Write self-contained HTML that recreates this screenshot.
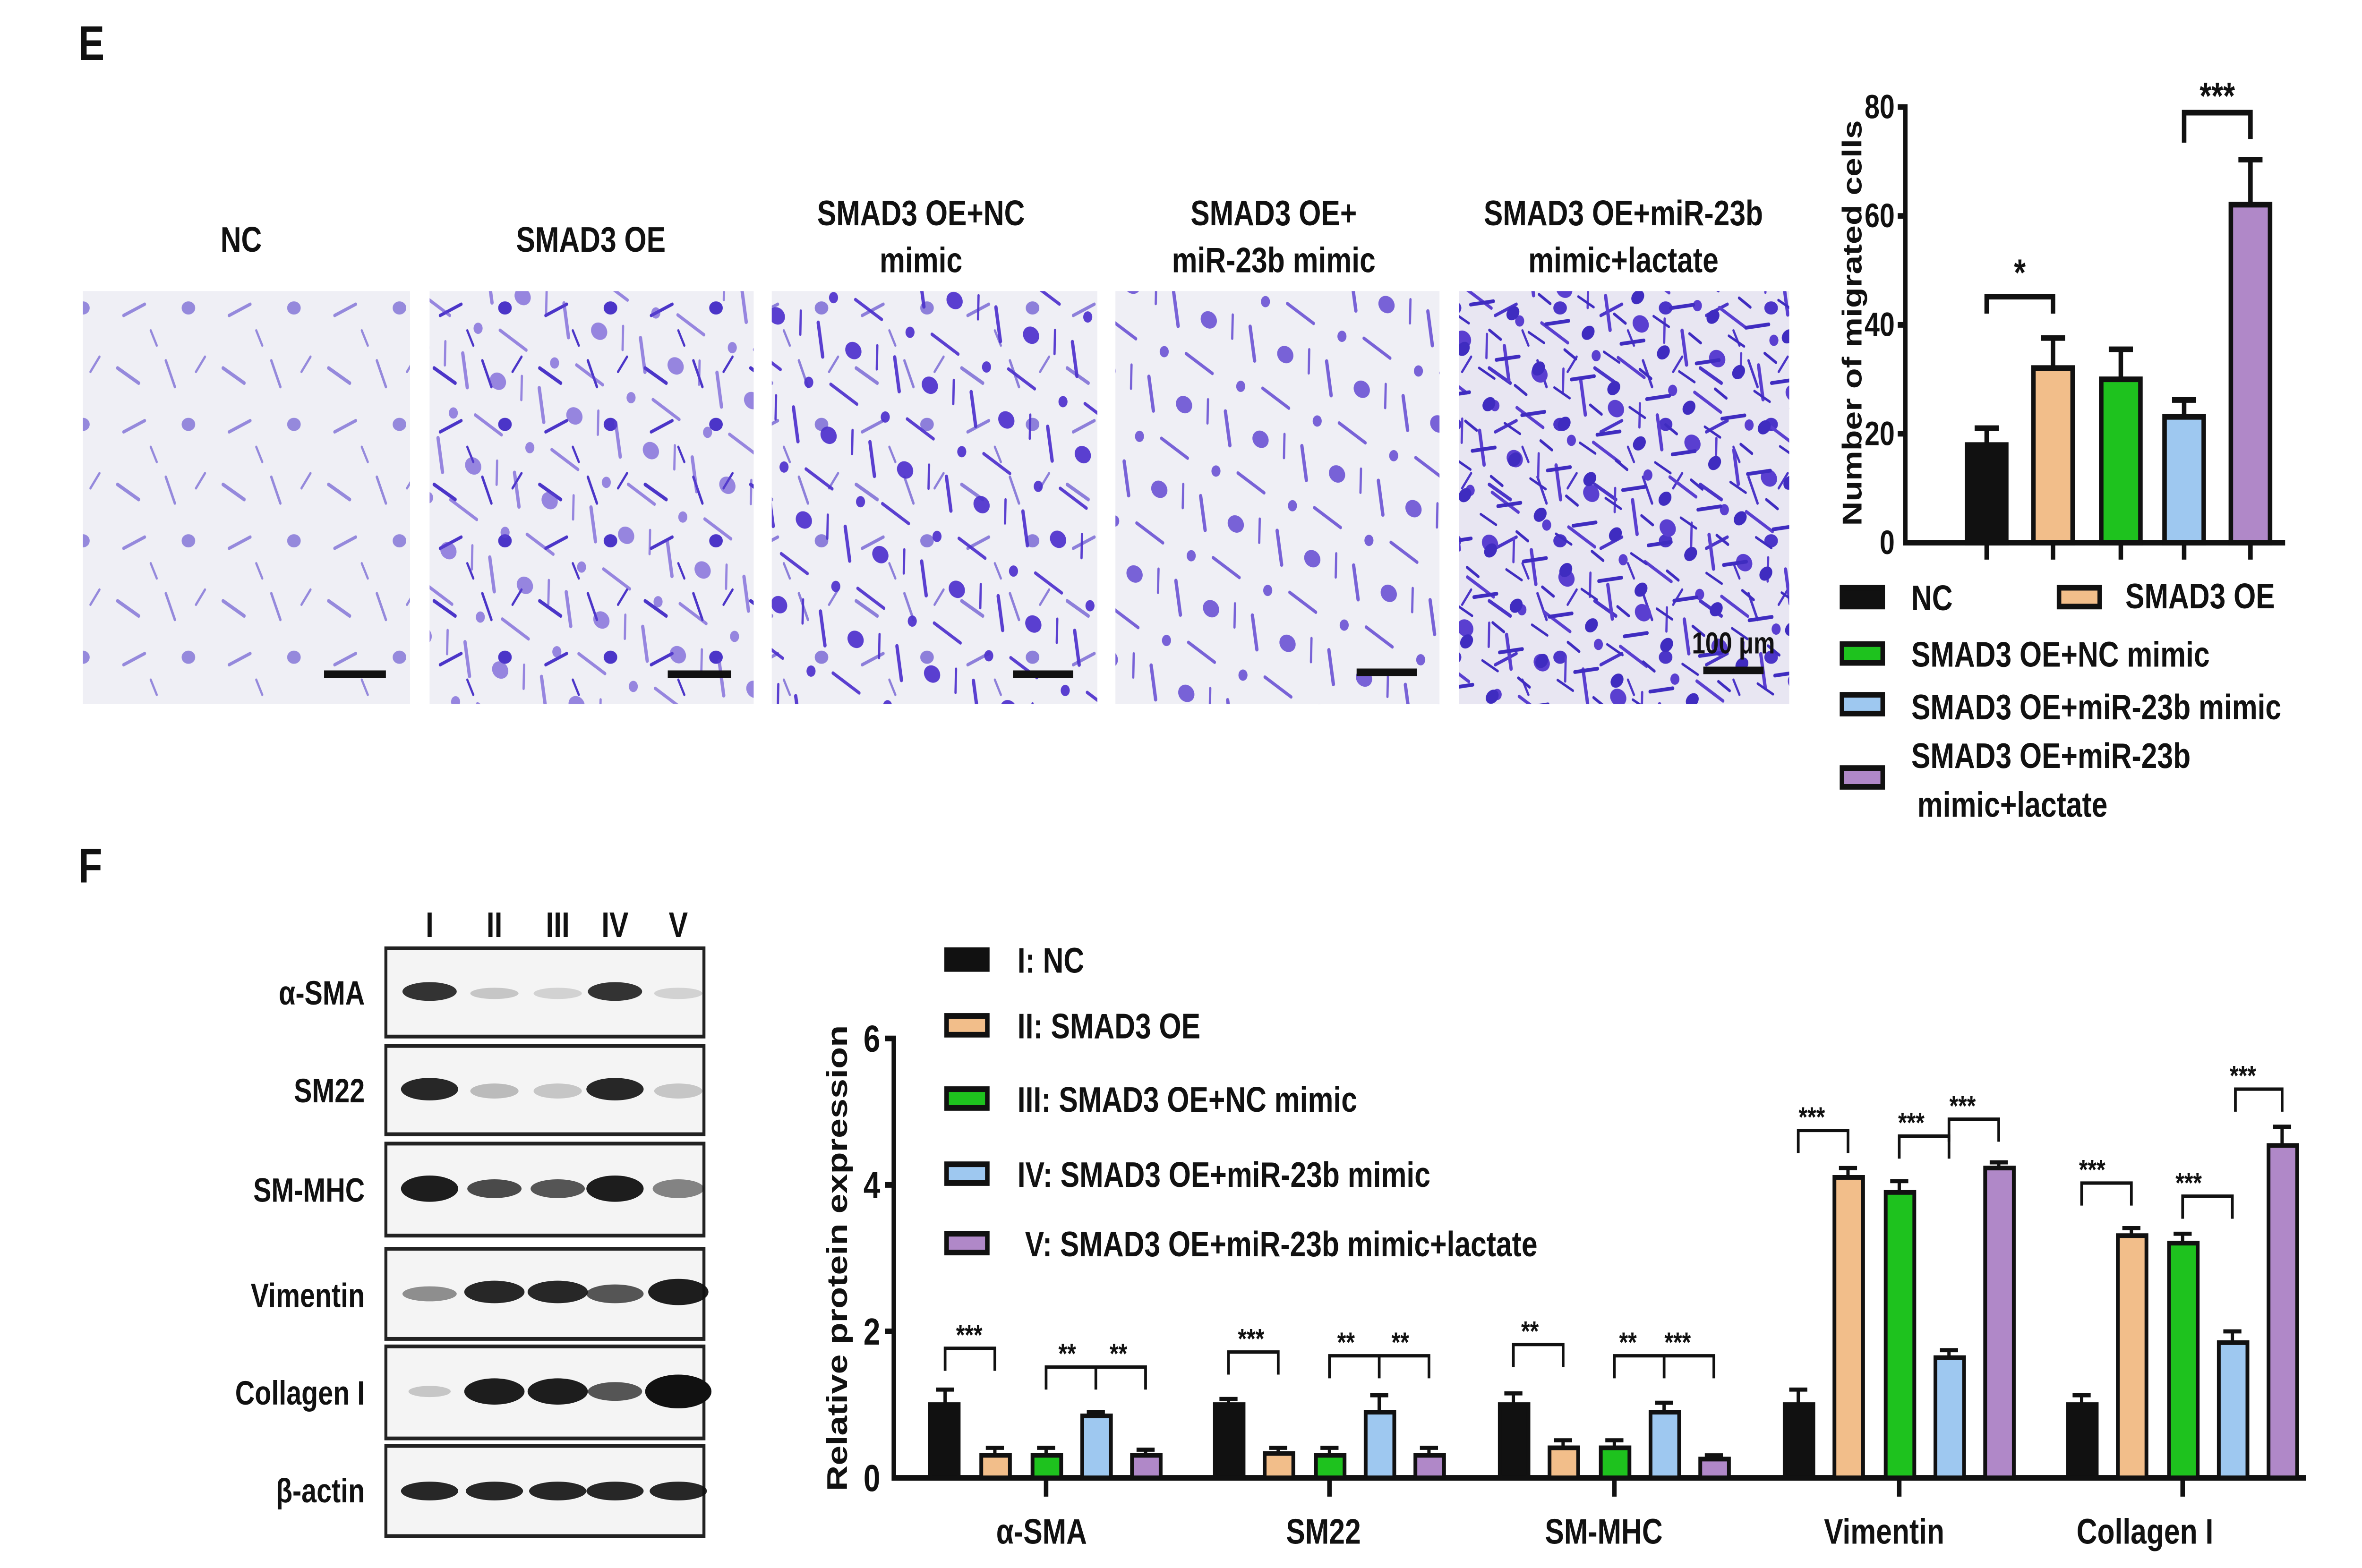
<!DOCTYPE html>
<html><head><meta charset="utf-8"><style>html,body{margin:0;padding:0;background:#fff;width:100%;height:100%;overflow:hidden}svg{display:block;width:100vw;height:100vh}text{font-family:"Liberation Sans",Arial,sans-serif;font-weight:bold;fill:#111}</style></head>
<body>
<svg viewBox="0 0 1567 835" preserveAspectRatio="none" xmlns="http://www.w3.org/2000/svg">
<defs>
<pattern id="c1" width="70" height="62" patternUnits="userSpaceOnUse">
<g stroke="#4b35c8" stroke-linecap="round" fill="#4b35c8">
<path d="M8 10 L22 18" stroke-width="2"/><path d="M40 6 L46 20" stroke-width="1.6"/><ellipse cx="55" cy="40" rx="4" ry="3"/><path d="M12 44 L26 38" stroke-width="1.8"/><path d="M30 52 L34 60" stroke-width="1.4"/><path d="M60 12 L66 4" stroke-width="1.4"/>
</g></pattern>
<pattern id="c2" width="54" height="48" patternUnits="userSpaceOnUse" patternTransform="translate(17,23) rotate(20)">
<g stroke="#5a3fd0" stroke-linecap="round" fill="#5a3fd0">
<path d="M5 8 L14 24" stroke-width="2.2"/><ellipse cx="32" cy="14" rx="5" ry="4"/><path d="M24 36 L44 40" stroke-width="1.8"/><path d="M46 6 L50 18" stroke-width="1.5"/><circle cx="10" cy="40" r="2.5"/>
</g></pattern>
<pattern id="c3" width="38" height="34" patternUnits="userSpaceOnUse" patternTransform="translate(5,9) rotate(-30)">
<g stroke="#3f2cc0" stroke-linecap="round" fill="#3f2cc0">
<path d="M4 6 L18 12" stroke-width="2"/><ellipse cx="26" cy="24" rx="4" ry="3"/><path d="M8 24 L12 32" stroke-width="1.6"/><path d="M30 4 L36 14" stroke-width="1.4"/>
</g></pattern>
</defs>
<rect width="1567" height="835" fill="#fff"/>
<text x="52" y="32" font-size="26">E</text>
<text x="52" y="470" font-size="26">F</text>

<g font-size="19" text-anchor="middle">
<text x="160" y="134">NC</text>
<text x="392" y="134">SMAD3 OE</text>
<text x="611" y="120">SMAD3 OE+NC</text><text x="611" y="145">mimic</text>
<text x="845" y="120">SMAD3 OE+</text><text x="845" y="145">miR-23b mimic</text>
<text x="1077" y="120">SMAD3 OE+miR-23b</text><text x="1077" y="145">mimic+lactate</text>
</g>
<g>
<rect x="55" y="155" width="217" height="220" fill="#efeff5"/>
<rect x="55" y="155" width="217" height="220" fill="url(#c1)" opacity="0.55"/>
<rect x="285" y="155" width="215" height="220" fill="#efeff5"/>
<rect x="285" y="155" width="215" height="220" fill="url(#c1)"/>
<rect x="285" y="155" width="215" height="220" fill="url(#c2)" opacity="0.6"/>
<rect x="512" y="155" width="216" height="220" fill="#efeff5"/>
<rect x="512" y="155" width="216" height="220" fill="url(#c2)"/>
<rect x="512" y="155" width="216" height="220" fill="url(#c1)" opacity="0.6"/>
<rect x="740" y="155" width="215" height="220" fill="#efeff5"/>
<rect x="740" y="155" width="215" height="220" fill="url(#c2)" opacity="0.8"/>
<rect x="968" y="155" width="219" height="220" fill="#e8e6f2"/>
<rect x="968" y="155" width="219" height="220" fill="url(#c1)"/>
<rect x="968" y="155" width="219" height="220" fill="url(#c2)"/>
<rect x="968" y="155" width="219" height="220" fill="url(#c3)"/>
</g>
<g stroke="#111" stroke-width="4">
<line x1="215" y1="359" x2="256" y2="359"/><line x1="443" y1="359" x2="485" y2="359"/><line x1="672" y1="359" x2="712" y2="359"/><line x1="900" y1="358" x2="940" y2="358"/><line x1="1130" y1="357" x2="1170" y2="357"/>
</g>
<text x="1150" y="348" font-size="16" text-anchor="middle" font-weight="normal">100 μm</text>

<g font-size="18" text-anchor="end">
<text x="1257" y="63">80</text><text x="1257" y="121">60</text><text x="1257" y="179">40</text><text x="1257" y="237">20</text><text x="1257" y="295">0</text>
</g>
<text transform="translate(1235,172) rotate(-90)" font-size="18" text-anchor="middle">Number of migrated cells</text>
<g stroke="#111" stroke-width="3" fill="none">
<path d="M1259 57 H1264 V289 H1516"/><path d="M1259 115 H1264 M1259 173 H1264 M1259 231 H1264"/>
<path d="M1318 289 V298 M1362 289 V298 M1407 289 V298 M1449 289 V298 M1493 289 V298"/>
<path d="M1318 167 V158 H1362 V167"/><path d="M1449 76 V60 H1493 V74"/>
<path d="M1318 237 V228 M1310 228 H1326 M1362 196 V180 M1354 180 H1370 M1407 202 V186 M1399 186 H1415 M1449 222 V213 M1441 213 H1457 M1493 109 V85 M1485 85 H1501"/>
</g>
<g stroke="#111" stroke-width="3">
<rect x="1305" y="237" width="26" height="52" fill="#111"/>
<rect x="1349" y="196" width="26" height="93" fill="#f2be8a"/>
<rect x="1394" y="202" width="26" height="87" fill="#1ec21e"/>
<rect x="1436" y="222" width="26" height="67" fill="#9ec8f0"/>
<rect x="1480" y="109" width="26" height="180" fill="#b088c8"/>
</g>
<text x="1340" y="152" font-size="20" text-anchor="middle">*</text>
<text x="1471" y="58" font-size="20" text-anchor="middle">***</text>
<g stroke="#111" stroke-width="3">
<rect x="1222" y="313" width="27" height="10" fill="#111"/>
<rect x="1366" y="313" width="27" height="10" fill="#f2be8a"/>
<rect x="1222" y="343" width="27" height="10" fill="#1ec21e"/>
<rect x="1222" y="370" width="27" height="10" fill="#9ec8f0"/>
<rect x="1222" y="409" width="27" height="10" fill="#b088c8"/>
</g>
<g font-size="19">
<text x="1268" y="325">NC</text><text x="1410" y="324">SMAD3 OE</text>
<text x="1268" y="355">SMAD3 OE+NC mimic</text>
<text x="1268" y="383">SMAD3 OE+miR-23b mimic</text>
<text x="1268" y="409">SMAD3 OE+miR-23b</text>
<text x="1272" y="435">mimic+lactate</text>
</g>

<g font-size="19" text-anchor="middle">
<text x="285" y="499">I</text><text x="328" y="499">II</text><text x="370" y="499">III</text><text x="408" y="499">IV</text><text x="450" y="499">V</text>
</g>
<g font-size="18" text-anchor="end">
<text x="242" y="535">α-SMA</text><text x="242" y="587">SM22</text><text x="242" y="640">SM-MHC</text><text x="242" y="696">Vimentin</text><text x="242" y="748">Collagen I</text><text x="242" y="800">β-actin</text>
</g>
<g stroke="#222" stroke-width="2" fill="#f4f4f4">
<rect x="256" y="505" width="211" height="47"/><rect x="256" y="557" width="211" height="47"/><rect x="256" y="609" width="211" height="49"/><rect x="256" y="665" width="211" height="48"/><rect x="256" y="717" width="211" height="49"/><rect x="256" y="770" width="211" height="48"/>
</g>
<g fill="#111">
<ellipse cx="285" cy="528" rx="18" ry="5" opacity="0.85"/><ellipse cx="328" cy="529" rx="16" ry="3" opacity="0.2"/><ellipse cx="370" cy="529" rx="16" ry="3" opacity="0.15"/><ellipse cx="408" cy="528" rx="18" ry="5" opacity="0.85"/><ellipse cx="450" cy="529" rx="16" ry="3" opacity="0.15"/>
<ellipse cx="285" cy="580" rx="19" ry="6" opacity="0.9"/><ellipse cx="328" cy="581" rx="16" ry="4" opacity="0.25"/><ellipse cx="370" cy="581" rx="16" ry="4" opacity="0.2"/><ellipse cx="408" cy="580" rx="19" ry="6" opacity="0.9"/><ellipse cx="450" cy="581" rx="16" ry="4" opacity="0.2"/>
<ellipse cx="285" cy="633" rx="19" ry="7" opacity="0.95"/><ellipse cx="328" cy="633" rx="18" ry="5" opacity="0.75"/><ellipse cx="370" cy="633" rx="18" ry="5" opacity="0.7"/><ellipse cx="408" cy="633" rx="19" ry="7" opacity="0.95"/><ellipse cx="450" cy="633" rx="17" ry="5" opacity="0.5"/>
<ellipse cx="285" cy="689" rx="18" ry="4" opacity="0.45"/><ellipse cx="328" cy="688" rx="20" ry="6" opacity="0.9"/><ellipse cx="370" cy="688" rx="20" ry="6" opacity="0.9"/><ellipse cx="408" cy="689" rx="19" ry="5" opacity="0.7"/><ellipse cx="450" cy="688" rx="20" ry="7" opacity="0.95"/>
<ellipse cx="285" cy="741" rx="14" ry="3" opacity="0.2"/><ellipse cx="328" cy="741" rx="20" ry="7" opacity="0.95"/><ellipse cx="370" cy="741" rx="20" ry="7" opacity="0.95"/><ellipse cx="408" cy="741" rx="18" ry="5" opacity="0.7"/><ellipse cx="450" cy="741" rx="22" ry="9" opacity="1"/>
<ellipse cx="285" cy="794" rx="19" ry="5" opacity="0.9"/><ellipse cx="328" cy="794" rx="19" ry="5" opacity="0.9"/><ellipse cx="370" cy="794" rx="19" ry="5" opacity="0.9"/><ellipse cx="408" cy="794" rx="19" ry="5" opacity="0.9"/><ellipse cx="450" cy="794" rx="19" ry="5" opacity="0.9"/>
</g>

<text transform="translate(562,670) rotate(-90)" font-size="19" text-anchor="middle">Relative protein expression</text>
<g font-size="20" text-anchor="end">
<text x="584" y="560">6</text><text x="584" y="638">4</text><text x="584" y="716">2</text><text x="584" y="794">0</text>
</g>
<g stroke="#111" stroke-width="3" fill="none">
<path d="M587 553 H593 V787 H1530"/><path d="M587 631 H593 M587 709 H593"/>
<path d="M694 787 V797 M882 787 V797 M1071 787 V797 M1260 787 V797 M1448 787 V797"/>
</g>
<g font-size="19" text-anchor="middle">
<text x="691" y="822">α-SMA</text><text x="878" y="822">SM22</text><text x="1064" y="822">SM-MHC</text><text x="1250" y="822">Vimentin</text><text x="1423" y="822">Collagen I</text>
</g>
<g stroke="#111" stroke-width="2.2" fill="none">
<path d="M627 748 V740 M621 740 H633 M660 775 V771 M654 771 H666 M694 775 V771 M688 771 H700 M727 754 V752 M721 752 H733 M760 775 V772 M754 772 H766"/>
<path d="M815 748 V745 M809 745 H821 M848 774 V771 M842 771 H854 M882 775 V771 M876 771 H888 M915 752 V743 M909 743 H921 M948 775 V771 M942 771 H954"/>
<path d="M1004 748 V742 M998 742 H1010 M1037 771 V767 M1031 767 H1043 M1071 771 V767 M1065 767 H1077 M1104 752 V747 M1098 747 H1110 M1137 777 V775 M1131 775 H1143"/>
<path d="M1193 748 V740 M1187 740 H1199 M1226 627 V622 M1220 622 H1232 M1260 635 V629 M1254 629 H1266 M1293 723 V719 M1287 719 H1299 M1326 622 V619 M1320 619 H1332"/>
<path d="M1381 748 V743 M1375 743 H1387 M1414 658 V654 M1408 654 H1420 M1448 662 V657 M1442 657 H1454 M1481 715 V709 M1475 709 H1487 M1514 610 V600 M1508 600 H1520"/>
</g>
<g stroke="#111" stroke-width="2.5">
<rect x="617" y="748" width="19" height="39" fill="#111"/><rect x="651" y="775" width="19" height="12" fill="#f2be8a"/><rect x="685" y="775" width="19" height="12" fill="#1ec21e"/><rect x="718" y="754" width="19" height="33" fill="#9ec8f0"/><rect x="751" y="775" width="19" height="12" fill="#b088c8"/>
<rect x="806" y="748" width="19" height="39" fill="#111"/><rect x="839" y="774" width="19" height="13" fill="#f2be8a"/><rect x="873" y="775" width="19" height="12" fill="#1ec21e"/><rect x="906" y="752" width="19" height="35" fill="#9ec8f0"/><rect x="939" y="775" width="19" height="12" fill="#b088c8"/>
<rect x="995" y="748" width="19" height="39" fill="#111"/><rect x="1028" y="771" width="19" height="16" fill="#f2be8a"/><rect x="1062" y="771" width="19" height="16" fill="#1ec21e"/><rect x="1095" y="752" width="19" height="35" fill="#9ec8f0"/><rect x="1128" y="777" width="19" height="10" fill="#b088c8"/>
<rect x="1184" y="748" width="19" height="39" fill="#111"/><rect x="1217" y="627" width="19" height="160" fill="#f2be8a"/><rect x="1251" y="635" width="19" height="152" fill="#1ec21e"/><rect x="1284" y="723" width="19" height="64" fill="#9ec8f0"/><rect x="1317" y="622" width="19" height="165" fill="#b088c8"/>
<rect x="1372" y="748" width="19" height="39" fill="#111"/><rect x="1405" y="658" width="19" height="129" fill="#f2be8a"/><rect x="1439" y="662" width="19" height="125" fill="#1ec21e"/><rect x="1472" y="715" width="19" height="72" fill="#9ec8f0"/><rect x="1505" y="610" width="19" height="177" fill="#b088c8"/>
</g>
<g stroke="#111" stroke-width="1.8" fill="none">
<path d="M627 730 V718 H660 V730"/><path d="M694 740 V728 H727 V740 M727 728 H760 V740"/>
<path d="M815 732 V720 H848 V732"/><path d="M882 734 V722 H915 V734 M915 722 H948 V734"/>
<path d="M1004 728 V716 H1037 V728"/><path d="M1071 734 V722 H1104 V734 M1104 722 H1137 V734"/>
<path d="M1193 614 V602 H1226 V614"/><path d="M1260 617 V605 H1293 V617"/><path d="M1293 608 V596 H1326 V608"/>
<path d="M1381 642 V630 H1414 V642"/><path d="M1448 649 V637 H1481 V649"/><path d="M1483 592 V580 H1514 V592"/>
</g>
<g font-size="15" text-anchor="middle">
<text x="643" y="716">***</text><text x="708" y="726">**</text><text x="742" y="726">**</text>
<text x="830" y="718">***</text><text x="893" y="720">**</text><text x="929" y="720">**</text>
<text x="1015" y="714">**</text><text x="1080" y="720">**</text><text x="1113" y="720">***</text>
<text x="1202" y="600">***</text><text x="1268" y="603">***</text><text x="1302" y="594">***</text>
<text x="1388" y="628">***</text><text x="1452" y="635">***</text><text x="1488" y="578">***</text>
</g>
<g stroke="#111" stroke-width="3">
<rect x="628" y="506" width="27" height="10" fill="#111"/>
<rect x="628" y="541" width="27" height="10" fill="#f2be8a"/>
<rect x="628" y="580" width="27" height="10" fill="#1ec21e"/>
<rect x="628" y="620" width="27" height="10" fill="#9ec8f0"/>
<rect x="628" y="657" width="27" height="10" fill="#b088c8"/>
</g>
<g font-size="19">
<text x="675" y="518">I: NC</text><text x="675" y="553">II: SMAD3 OE</text><text x="675" y="592">III: SMAD3 OE+NC mimic</text><text x="675" y="632">IV: SMAD3 OE+miR-23b mimic</text><text x="680" y="669">V: SMAD3 OE+miR-23b mimic+lactate</text>
</g>
</svg>
</body></html>
